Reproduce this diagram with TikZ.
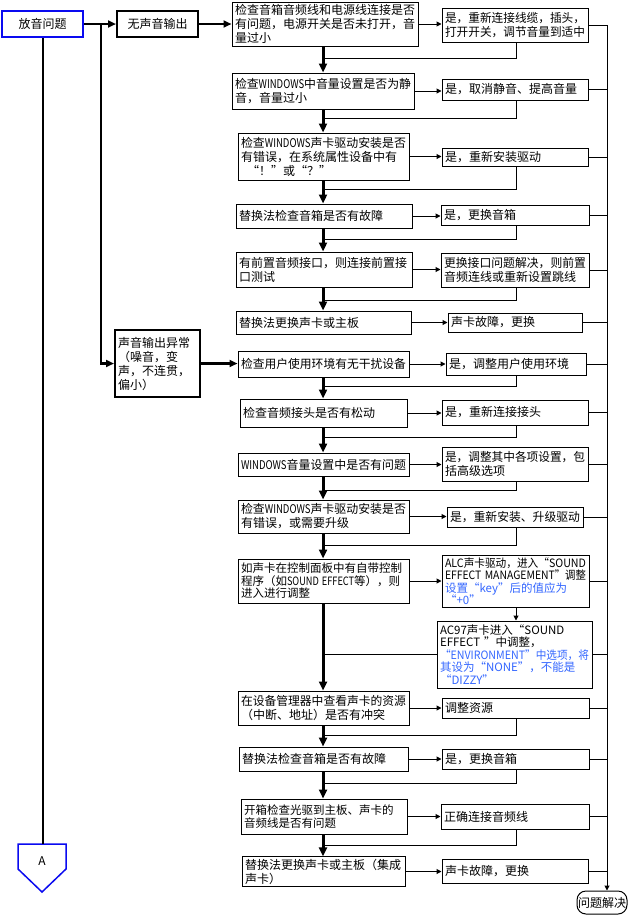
\documentclass[tikz,border=0pt]{standalone}
\usepackage{fontspec}
\setmainfont{Noto Sans CJK SC}
\usepackage{graphicx}
\usetikzlibrary{arrows.meta}
\definecolor{bl}{RGB}{10,10,240}
\definecolor{tb}{RGB}{51,102,255}
\newsavebox\flbox
\newcommand\fl[1]{\sbox\flbox{#1}\ifdim\wd\flbox>\linewidth\resizebox{\linewidth}{\height}{\usebox\flbox}\else\usebox\flbox\fi}
\newcommand\W{\scalebox{0.8}[1]{WINDOWS}}
\newcommand\bx[7][]{%
  \pgfmathsetmacro\bw{#5-#3}\pgfmathsetmacro\bh{#6-#4}\pgfmathsetmacro\tw{#5-#3-6}%
  \pgfmathsetmacro\cx{(#3+#5)/2}\pgfmathsetmacro\cy{(#4+#6)/2}%
  \node[box,minimum width=\bw pt,minimum height=\bh pt,text width=\tw pt,#1] (#2) at (\cx,\cy) {#7};}
\begin{document}
\begin{tikzpicture}[x=1pt,y=-1pt,
  box/.style={draw,line width=1pt,inner sep=2pt,align=left,anchor=center,font=\fontsize{12}{14}\selectfont},
  small/.style={font=\fontsize{11.5}{12.5}\selectfont},
  spine/.style={line width=3pt,-{Triangle[width=8pt,length=9pt]}},
  tk/.style={line width=2.2pt},
  tkarr/.style={line width=2.2pt,-{Triangle[width=7pt,length=8pt]}},
  tn/.style={line width=1pt},
  tarr/.style={line width=1pt,-{Triangle[width=5pt,length=5pt]}}]
\useasboundingbox[fill=white] (0,0) rectangle (636,916);
\coordinate (sp) at (323,0);
\coordinate (rv) at (607,0);
\coordinate (rx) at (516,0);
% left column
\bx[draw=bl,line width=2pt,align=center]{start}{2}{11}{83}{37}{放音问题}
\bx[line width=2pt,align=center]{nos}{117}{11}{198}{37}{无声音输出}
\bx[line width=2pt]{abn}{115}{330}{200}{397}{声音输出异常\\（噪音，变\\声，不连贯，\\偏小）}
% main column
\bx{b1}{232}{2}{418}{46}{\fl{检查音箱音频线和电源线连接是否}\\\fl{有问题，电源开关是否未打开，音}\\量过小}
\bx{b2}{232}{73}{414}{109}{\fl{检查\W 中音量设置是否为静}\\音，音量过小}
\bx{b3}{238}{133}{409}{180}{\fl{检查\W 声卡驱动安装是否}\\\fl{有错误，在系统属性设备中有}\\\hspace*{6pt}“！”或“？”}
\bx{b4}{236}{204}{412}{228}{替换法检查音箱是否有故障}
\bx{b5}{236}{252}{412}{287}{\fl{有前置音频接口，则连接前置接}\\口测试}
\bx{b6}{236}{311}{411}{334}{替换法更换声卡或主板}
\bx{b7}{238}{351}{409}{377}{\fl{检查用户使用环境有无干扰设备}}
\bx{b8}{240}{399}{407}{427}{检查音频接头是否有松动}
\bx{b9}{238}{453}{409}{476}{\fl{\W 音量设置中是否有问题}}
\bx{b10}{238}{500}{409}{533}{\fl{检查\W 声卡驱动安装是否}\\有错误，或需要升级}
\bx[small]{b11}{238}{559}{409}{603}{\fl{如声卡在控制面板中有自带控制}\\\fl{程序（如\scalebox{0.8}[1]{SOUND EFFECT}等），则}\\进入进行调整}
\bx{b12}{238}{691}{409}{725}{\fl{在设备管理器中查看声卡的资源}\\\fl{（中断、地址）是否有冲突}}
\bx{b13}{239}{747}{408}{771}{替换法检查音箱是否有故障}
\bx[small]{b14}{241}{799}{407}{834}{\fl{开箱检查光驱到主板、声卡的}\\音频线是否有问题}
\bx{b15}{242}{857}{405}{886}{\fl{替换法更换声卡或主板（集成}\\声卡）}
% right column
\bx{r1}{442}{8}{588}{42}{\fl{是，重新连接线缆，插头，}\\\fl{打开开关，调节音量到适中}}
\bx{r2}{442}{79}{588}{100}{是，取消静音、提高音量}
\bx{r3}{442}{148}{588}{166}{是，重新安装驱动}
\bx{r4}{441}{205}{589}{225}{是，更换音箱}
\bx{r5}{441}{253}{589}{287}{\fl{更换接口问题解决，则前置}\\\fl{音频连线或重新设置跳线}}
\bx{r6}{448}{313}{582}{332}{声卡故障，更换}
\bx{r7}{446}{353}{586}{375}{是，调整用户使用环境}
\bx{r8}{442}{400}{588}{425}{是，重新连接接头}
\bx{r9}{442}{447}{588}{481}{\fl{是，调整其中各项设置，包}\\括高级选项}
\bx{r10}{447}{507}{583}{527}{\fl{是，重新安装、升级驱动}}
\bx[small]{r11}{442}{555}{589}{607}{\fl{ALC声卡驱动，进入“SOUND}\\\fl{EFFECT MANAGEMENT”调整}\\\fl{\color{tb}设置“key”后的值应为}\\{\color{tb}“+0”}}
\bx[small]{r12}{437}{621}{592}{688}{\fl{AC97声卡进入“SOUND}\\\fl{EFFECT ”中调整，}\\\fl{\color{tb}“ENVIRONMENT”中选项，将}\\\fl{\color{tb}其设为“NONE”，不能是}\\{\color{tb}“DIZZY”}}
\bx{r13}{442}{698}{589}{718}{调整资源}
\bx{r14}{442}{749}{589}{769}{是，更换音箱}
\bx{r15}{441}{804}{589}{829}{正确连接音频线}
\bx{r16}{442}{859}{588}{883}{声卡故障，更换}
\node[draw,line width=1pt,rounded corners=9pt,minimum width=46pt,minimum height=23pt,inner sep=1pt,font=\fontsize{12}{14}\selectfont] (done) at (602,902.5) {问题解决};
% off-page connector A
\draw[draw=bl,line width=1.5pt] (18,844) -- (66,844) -- (66,869) -- (42,892) -- (18,869) -- cycle;
\node[font=\fontsize{12}{14}\selectfont] (A) at (42,861) {A};
\coordinate (Atop) at (43,844);
% connectors
\draw[tkarr] (start.east) -- (nos.west);
\draw[tkarr] (nos.east) -- (b1.west);
\coordinate (br) at (101,24);
\draw[tkarr] (br) |- (abn.west);
\draw[tkarr] (abn.east) -- (abn.east -| b7.west);
\draw[tk] (start.south -| Atop) -- (Atop);
\foreach \a/\b in {b1/b2,b2/b3,b3/b4,b4/b5,b5/b6,b7/b8,b8/b9,b9/b10,b10/b11,b11/b12,b12/b13,b13/b14,b14/b15}
  \draw[spine] (\a.south -| sp) -- (\b.north -| sp);
\foreach \m/\r in {b1/r1,b2/r2,b3/r3,b4/r4,b5/r5,b6/r6,b7/r7,b8/r8,b9/r9,b10/r10,b11/r11,b12/r13,b13/r14,b14/r15,b15/r16}
  \draw[tarr] (\m.east) -- (\m.east -| \r.west);
\foreach \r in {r1,r2,r3,r4,r5,r6,r7,r8,r9,r10,r11,r12,r13,r14,r15,r16}
  \draw[tn] (\r.east) -- (\r.east -| rv);
\draw[tarr] (r1.east -| rv) -- (done.north -| rv);
\foreach \r/\y in {r1/58,r2/118,r3/189,r4/239,r5/300,r7/386,r8/437,r9/490,r10/545,r13/735,r14/783,r15/845}{
  \coordinate (j\r) at (323,\y);
  \draw[tn] (\r.south -| rx) |- (j\r);}
\draw[tn] (r12.west) -- (r12.west -| sp);
\draw[tarr] (r11.south -| rx) -- (r12.north -| rx);
\end{tikzpicture}
\end{document}
